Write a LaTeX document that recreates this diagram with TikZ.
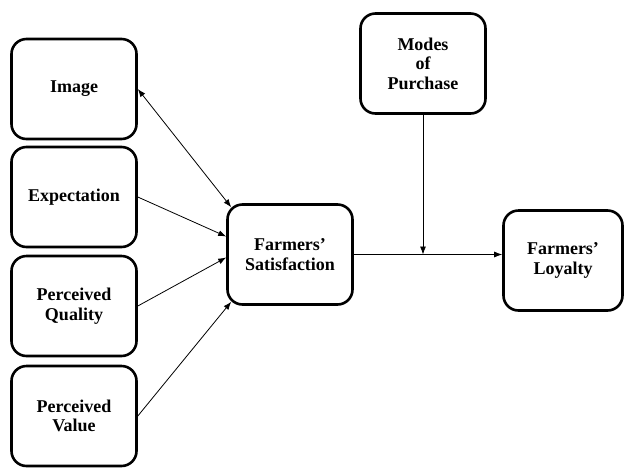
\documentclass[tikz,border=0pt]{standalone}
\usepackage{fontspec}
\setmainfont{Liberation Serif}
\usepackage{tikz}
\usetikzlibrary{arrows.meta,positioning,calc}

\begin{document}
\begin{tikzpicture}[x=1pt, y=-1pt,
  box/.style={draw, line width=2.6pt, rounded corners=15pt, align=center,
    font=\fontsize{18}{19.5}\selectfont\bfseries, minimum width=125pt, minimum height=100pt, inner sep=2pt},
  link/.style={line width=0.8pt, -{Latex[length=8pt,width=6pt]}},
  both/.style={line width=0.8pt, {Latex[length=8pt,width=6pt]}-{Latex[length=8pt,width=6pt]}}
]
\useasboundingbox (0,0) rectangle (625,467);

% Antecedents - left column
\node[box] (img)  at (74, 89)  {Image};
\node[box] (exp)  at (74, 197) {Expectation};
\node[box] (qual) at (74, 306) {Perceived\\Quality};
\node[box] (val)  at (74, 416) {Perceived\\Value};

% Satisfaction, moderator and loyalty
\node[box] (sat)   at (290, 254.5) {Farmers'\\Satisfaction};
\node[box] (modes) at (423, 63.5)  {Modes\\of\\Purchase};
\node[box, minimum width=119pt] (loy) at (563, 260.5) {Farmers'\\Loyalty};

% Paths into satisfaction
\draw[both] (img.east) -- ($(sat.north west)+(5,4)$);
\draw[link] (exp.east) -- ($(sat.west)+(0,-18)$);
\draw[link] (qual.east) -- ($(sat.west)+(0,3)$);
\draw[link] (val.east) -- ($(sat.south west)+(5,-4)$);

% Satisfaction -> loyalty, moderated by modes of purchase
\coordinate (mod) at (sat.east -| modes.south);
\draw[link] (sat.east) -- (sat.east -| loy.west);
\draw[link] (modes.south) -- (mod);

\end{tikzpicture}
\end{document}
